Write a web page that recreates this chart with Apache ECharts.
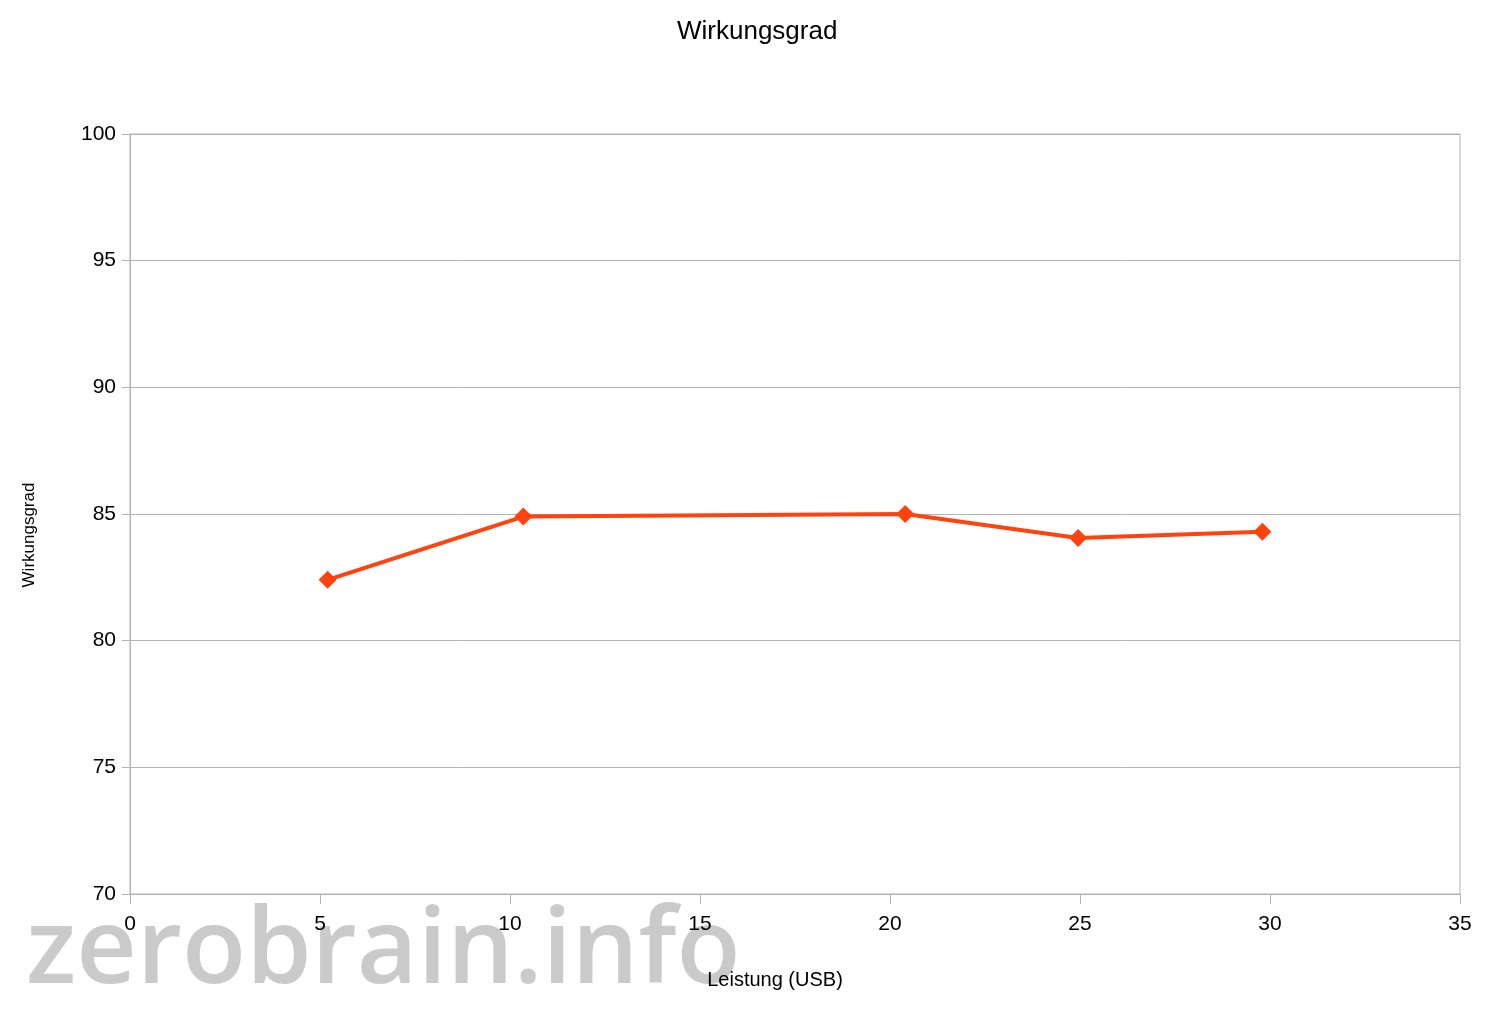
<!DOCTYPE html>
<html>
<head>
<meta charset="utf-8">
<script src="https://cdn.jsdelivr.net/npm/echarts@6/dist/echarts.min.js"></script>
<style>html,body{margin:0;padding:0;background:#fff}#c{width:1500px;height:1015px}</style>
</head>
<body>
<div id="c"></div>
<script>
// Data
const leistung = [5.2, 10.35, 20.4, 24.95, 29.8];
const wirkungsgrad = [82.4, 84.9, 85.0, 84.05, 84.3];
const titleText = 'Wirkungsgrad';
const xName = 'Leistung (USB)';
const yName = 'Wirkungsgrad';
const watermark = 'zerobrain.info';

const chart = echarts.init(document.getElementById('c'));
const FONT = '"Liberation Sans", Arial, sans-serif';
const AX = '#b3b3b3';
chart.setOption({
  backgroundColor: '#ffffff',
  animation: false,
  title: {
    text: titleText, left: 672, top: 14,
    textStyle: { fontFamily: FONT, fontSize: 26, fontWeight: 'normal', color: '#000' }
  },
  grid: { left: 130, right: 40, top: 134, bottom: 121, show: true, borderColor: AX, borderWidth: 1, backgroundColor: 'transparent' },
  xAxis: {
    type: 'value', min: 0, max: 35, interval: 5,
    name: xName, nameLocation: 'middle', nameGap: 76,
    nameTextStyle: { fontFamily: FONT, fontSize: 20, color: '#000', padding: [0, 40, 0, 0] },
    axisLine: { show: true, lineStyle: { color: AX, width: 1 } },
    axisTick: { show: true, inside: false, length: 10, lineStyle: { color: AX } },
    axisLabel: { fontFamily: FONT, fontSize: 21, color: '#000', margin: 20 },
    splitLine: { show: false }
  },
  yAxis: {
    type: 'value', min: 70, max: 100, interval: 5,
    name: yName, nameLocation: 'middle', nameGap: 92, nameRotate: 90,
    nameTextStyle: { fontFamily: FONT, fontSize: 17, color: '#000', padding: [0, 42, 0, 0] },
    axisLine: { show: true, lineStyle: { color: AX, width: 1 } },
    axisTick: { show: true, inside: false, length: 8, lineStyle: { color: AX } },
    axisLabel: { fontFamily: FONT, fontSize: 21, color: '#000', margin: 14 },
    splitLine: { show: true, lineStyle: { color: AX, width: 1 } }
  },
  series: [{
    type: 'line',
    data: leistung.map((x, i) => [x, wirkungsgrad[i]]),
    symbol: 'diamond', symbolSize: 18,
    lineStyle: { color: '#ff420e', width: 4 },
    itemStyle: { color: '#ff420e' },
    z: 5
  }],
  graphic: [{
    type: 'text', left: 26, top: 901, z: -1, silent: true,
    style: {
      text: watermark, fontFamily: '"Open Sans", "DejaVu Sans", sans-serif', fontSize: 105, fontWeight: 600,
      fill: 'rgba(150,150,150,0.5)',
      shadowColor: 'rgba(150,150,150,0.3)', shadowBlur: 6, shadowOffsetX: 4, shadowOffsetY: 4
    }
  }]
});
</script>
</body>
</html>
